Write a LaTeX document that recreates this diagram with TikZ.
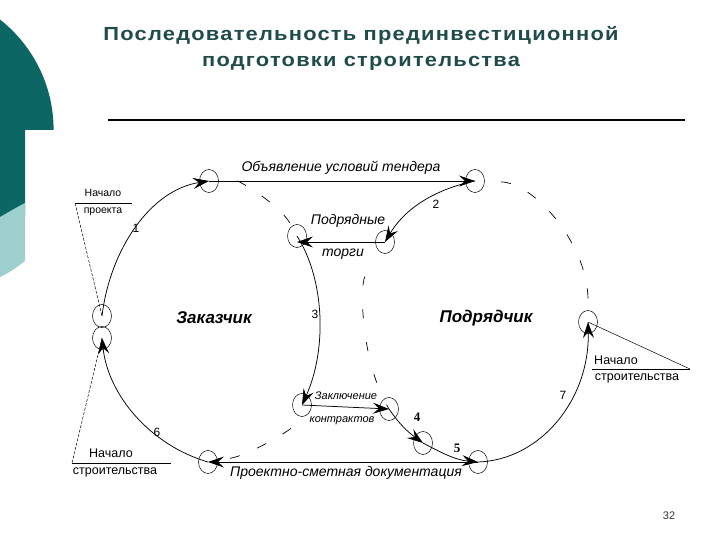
\documentclass[tikz,border=0pt]{standalone}
\usepackage{fontspec}
\setmainfont{Liberation Sans}
\newfontfamily\titlefont[FakeStretch=1.15,LetterSpace=6.5]{Liberation Sans}
\newfontfamily\serifnum{Liberation Serif}
\usetikzlibrary{arrows.meta,shapes.geometric,calc}
\definecolor{dkteal}{HTML}{0B6664}
\definecolor{ltteal}{HTML}{9DCFCF}
\definecolor{titlecol}{HTML}{1F4C4A}
\begin{document}
\begin{tikzpicture}[x=1pt,y=-1pt,line width=0.6pt,
  nd/.style={draw, ellipse, minimum width=19pt, minimum height=23pt, inner sep=0pt, line width=0.5pt},
  ar/.style={-{Stealth[length=16pt,width=11pt,inset=6pt]}, line width=0.75pt},
  dsh/.style={line width=0.7pt, dash pattern=on 10pt off 19pt},
  dshmid/.style={line width=0.7pt, dash pattern=on 9pt off 24pt},
  fine/.style={line width=0.5pt, dash pattern=on 3pt off 1.5pt},
  lab/.style={font=\fontsize{14}{16}\selectfont\itshape, inner sep=0pt},
  smalllab/.style={font=\fontsize{11}{13}\selectfont\itshape, inner sep=0pt},
  num/.style={font=\fontsize{12}{14}\selectfont, inner sep=0pt},
  bnum/.style={font=\serifnum\bfseries\fontsize{13}{15}\selectfont, inner sep=0pt},
  big/.style={font=\fontsize{17}{20}\selectfont\bfseries\itshape, inner sep=0pt},
  startlab/.style={font=\fontsize{12.5}{14}\selectfont, inner sep=0pt},
  startsmall/.style={font=\fontsize{10.5}{12}\selectfont, inner sep=0pt},
  titlelab/.style={font=\titlefont\bfseries\fontsize{19}{22}\selectfont, text=titlecol, inner sep=0pt}]
\useasboundingbox (0,0) rectangle (720,540);
% decoration
\begin{scope}
  \clip (0,0) rectangle (53.5,130) (0,130) rectangle (25,300);
  \fill[dkteal] (-87,130) circle (140.6);
\end{scope}
\fill[ltteal] (0,217) .. controls (9,212) and (17,207) .. (25,203) -- (25,261) .. controls (17,267) and (9,273) .. (0,277) -- cycle;
% title
\node[titlelab] (t1) at (361,35) {Последовательность прединвестиционной};
\node[titlelab] (t2) at (361,63) {подготовки строительства};
\coordinate (r1) at (108,120);
\coordinate (r2) at (685,120);
\draw[line width=1.1pt] (r1) -- (r2);
\node[font=\fontsize{11}{13}\selectfont, text=black!80] (pg) at (669,516) {32};
% small circles
\node[nd] (A) at (209,181) {};
\node[nd] (B) at (475,181) {};
\node[nd] (C) at (297,236) {};
\node[nd] (D) at (385,242) {};
\node[nd] (E1) at (102,316) {};
\node[nd] (E2) at (102,338) {};
\node[nd] (F) at (588,322) {};
\node[nd] (G) at (302,405) {};
\node[nd] (H) at (389,409) {};
\node[nd] (I) at (423,443) {};
\node[nd] (J) at (478,462) {};
\node[nd] (K) at (208,462) {};
% solid connectors
\draw[ar] (E1.center) .. controls (110,250) and (150,190) .. (A.center);
\draw[ar] (A.center) -- (B.center);
\draw[ar] (B.center) .. controls (450,186) and (410,200) .. (D.center);
\draw[ar] (D.center) -- (D.center -| C.center);
\draw[ar] (C.center) .. controls (325,280) and (327,350) .. (G.center);
\draw[ar] (G.center) -- (H.center);
\draw[ar] (H.center) .. controls (400,425) and (408,432) .. (I.center);
\draw[ar] (I.center) .. controls (440,452) and (455,460) .. (J.center);
\draw[ar] (J.center) -- (K.center);
\draw[ar] (K.center) .. controls (150,445) and (108,395) .. (E2.center);
\draw[ar] (J.center) .. controls (540,460) and (590,400) .. (F.center);
% dashed arcs
\draw[dsh, shorten <=28pt, shorten >=14pt] (A.center) .. controls (240,181) and (280,205) .. (C.center);
\draw[dsh, shorten <=26pt, shorten >=22pt] (B.center) .. controls (535,183) and (588,245) .. (F.center);
\draw[dshmid, shorten <=40pt] (D.center) .. controls (360,285) and (360,360) .. (H.center);
\draw[dsh, shorten <=26pt, shorten >=22pt] (G.center) .. controls (290,430) and (250,455) .. (K.center);
% start notes
\coordinate (Lt1) at (75,203);
\coordinate (Lt2) at (132,203);
\draw[line width=0.5pt] (Lt1) -- (Lt2);
\draw[fine] (Lt1) -- (E1.center);
\node[startsmall] (lt) at (103,193) {Начало};
\node[startsmall] (lp) at (103,212) {проекта};
\coordinate (Lb1) at (72,463);
\coordinate (Lb2) at (171,463);
\draw[line width=0.5pt] (Lb1) -- (Lb2);
\draw[fine] (Lb1) -- (E2.center);
\node[startlab] (lbt) at (111,453) {Начало};
\node[startlab] (lbs) at (115,472) {строительства};
\coordinate (Rl) at (592,369);
\coordinate (Rt) at (690,369);
\draw[line width=0.5pt] (Rl) -- (Rt);
\draw[line width=0.5pt] (F.center) -- (Rt);
\node[startlab] (rbt) at (616,360) {Начало};
\node[startlab] (rbs) at (637,378) {строительства};
% labels
\node[lab] (l1) at (341,168) {Объявление условий тендера};
\node[lab] (l2) at (348,221) {Подрядные};
\node[lab] (l3) at (343,254) {торги};
\node[smalllab] (l4) at (346,396) {Заключение};
\node[smalllab] (l5) at (342,421) {контрактов};
\node[lab] (l6) at (346,473) {Проектно-сметная документация};
\node[big] (zk) at (214,318) {Заказчик};
\node[big] (pd) at (486,318) {Подрядчик};
\node[num] (n1) at (136,228) {1};
\node[num] (n2) at (436,204) {2};
\node[num] (n3) at (315,314) {3};
\node[bnum] (n4) at (417,417) {4};
\node[bnum] (n5) at (457,448) {5};
\node[num] (n6) at (157,432) {6};
\node[num] (n7) at (563,395) {7};
\end{tikzpicture}
\end{document}
